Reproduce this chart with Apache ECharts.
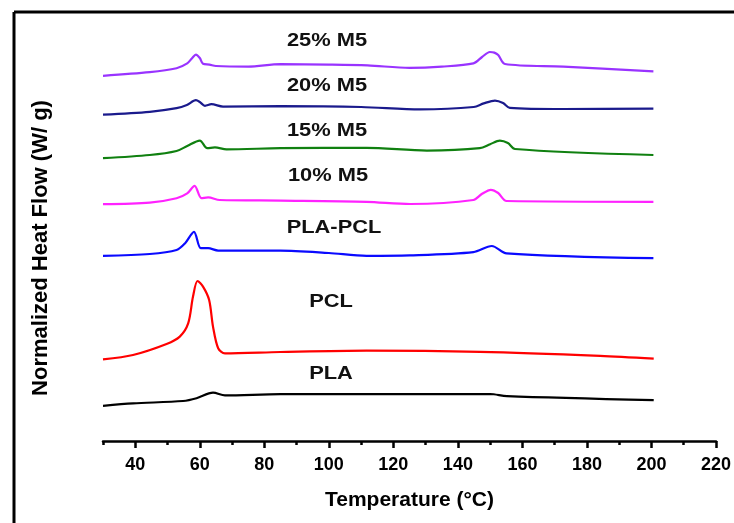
<!DOCTYPE html>
<html>
<head>
<meta charset="utf-8">
<script src="https://cdn.jsdelivr.net/npm/echarts@6/dist/echarts.min.js"></script>
<style>
html,body{margin:0;padding:0;background:#fff;}
#main{width:734px;height:523px;}
</style>
</head>
<body>
<div id="main"></div>
<script>
// Temperature (°C), offset heat-flow (arbitrary units)
const sample25 = [[30,91.3],[44.5,92.2],[52.8,93.2],[56.1,94.4],[57.6,95.7],[58.8,96.6],[60,95.75],[61,94.3],[63,94.1],[65,93.75],[75,93.6],[85,94.2],[100,94.1],[112,93.9],[125,93.3],[135,93.6],[144.8,94.4],[147.5,96.0],[149.9,97.25],[151.3,97.1],[152.5,96.5],[154.6,94.25],[172.7,93.6],[200.6,92.4]];
const sample20 = [[30,81.6],[44.5,82.3],[52.8,83.2],[56,84.0],[58.8,85.2],[60,84.75],[61.6,83.8],[63.6,84.2],[67.2,83.6],[85,83.7],[110,83.5],[128.3,82.9],[144.9,83.5],[148,84.4],[151.5,85.1],[154,84.5],[156.1,83.3],[172.7,83.0],[200.6,83.1]];
const sample15 = [[30,70.7],[44.5,71.5],[52.8,72.5],[56.1,73.75],[60,75.1],[62.3,73.2],[64.7,73.4],[68.3,72.9],[85,73.2],[111.7,73.3],[130.4,72.6],[146.8,73.2],[150,74.2],[153,75.1],[155.5,74.5],[157.7,73.0],[200.6,71.5]];
const sample10 = [[30,59.2],[44.5,59.6],[52.8,60.7],[56.1,61.9],[58.4,63.8],[60.5,60.7],[62.6,60.9],[66.2,60.25],[85,60.1],[111.7,59.8],[125.2,59.25],[144.8,60.25],[147.5,61.8],[150.2,62.8],[152.5,62.0],[155.1,60.0],[200.6,59.8]];
const blendPLAPCL = [[30,46.3],[44.5,46.75],[52.8,47.75],[55.4,49.4],[58.2,52.3],[60.3,48.2],[62.6,48.2],[65.7,47.6],[85,47.6],[100,47.0],[111.7,46.3],[125,46.4],[144.8,47.2],[150.5,48.75],[155.1,46.9],[200.6,45.7]];
const neatPCL = [[30,20.4],[39.3,21.5],[49.7,24.25],[53.8,26.1],[56.4,29.4],[57.9,36.1],[59.3,40.0],[61,38.6],[62.9,35.25],[64.1,28.6],[65.7,23.2],[67.8,21.9],[85,22.25],[111.7,22.6],[146.9,22.3],[184.1,21.3],[200.7,20.6]];
const neatPLA = [[30,8.8],[39.3,9.4],[54.8,10.0],[59,10.7],[64.1,12.1],[67.8,11.4],[85,11.7],[111.7,11.7],[150,11.75],[155.2,11.2],[200.7,10.2]];

const seriesNames = ['25% M5','20% M5','15% M5','10% M5','PLA-PCL','PCL','PLA'];
const seriesData = [sample25, sample20, sample15, sample10, blendPLAPCL, neatPCL, neatPLA];
const seriesColors = ['#9933FF','#1A1A8C','#108010','#FF22FF','#0A0AFF','#FF0000','#000000'];

const majorTicks = [40,60,80,100,120,140,160,180,200,220];
const minorTicks = [30,50,70,90,110,130,150,170,190,210];

// label placements (pixel)
const labelPos = [[327,41],[327,86],[327,131],[328,176],[334,228],[331,302],[331,374]];

const chart = echarts.init(document.getElementById('main'), null, {renderer:'canvas'});
const font = 'Arial, "Liberation Sans", sans-serif';

chart.setOption({
  animation:false,
  backgroundColor:'#fff',
  grid:{left:103, top:41, width:613, height:400},
  xAxis:[{
    type:'value', min:30, max:220, interval:10,
    name:'Temperature (°C)', nameLocation:'middle', nameGap:49,
    nameTextStyle:{fontFamily:font, fontWeight:'bold', fontSize:21, color:'#000'},
    axisLine:{show:true, lineStyle:{color:'#000', width:2.5}},
    axisTick:{show:true, customValues:majorTicks, length:7, inside:false, lineStyle:{color:'#000', width:2.5}},
    axisLabel:{customValues:majorTicks, margin:15, fontFamily:font, fontWeight:'bold', fontSize:18, color:'#000'},
    splitLine:{show:false}
  },{
    type:'value', min:30, max:220, interval:10, position:'bottom',
    axisLine:{show:false},
    axisTick:{show:true, customValues:minorTicks, length:4, inside:false, lineStyle:{color:'#000', width:2.5}},
    axisLabel:{show:false},
    splitLine:{show:false}
  }],
  yAxis:{
    type:'value', min:0, max:100,
    axisLine:{show:false}, axisTick:{show:false}, axisLabel:{show:false}, splitLine:{show:false}
  },
  series: seriesData.map((d,i)=>({
    name:seriesNames[i], type:'line', data:d, xAxisIndex:0,
    smooth:0.3, showSymbol:false, symbol:'none',
    lineStyle:{color:seriesColors[i], width:2.2}, itemStyle:{color:seriesColors[i]}
  })),
  graphic:[
    {type:'line', shape:{x1:14,y1:12,x2:734,y2:12}, style:{stroke:'#000', lineWidth:3}},
    {type:'line', shape:{x1:14,y1:12,x2:14,y2:523}, style:{stroke:'#000', lineWidth:3}},
    {type:'text', x:41, y:248, rotation:Math.PI/2,
     style:{text:'Normalized Heat Flow (W/ g)', font:'bold 22px '+font, fill:'#000', align:'center', verticalAlign:'middle'}}
  ].concat(seriesNames.map((n,i)=>({
    type:'text', x:labelPos[i][0], y:labelPos[i][1], scaleX:1.15,
    style:{text:n, font:'bold 19px '+font, fill:'#111', align:'center', verticalAlign:'middle'}
  })))
});
</script>
</body>
</html>
